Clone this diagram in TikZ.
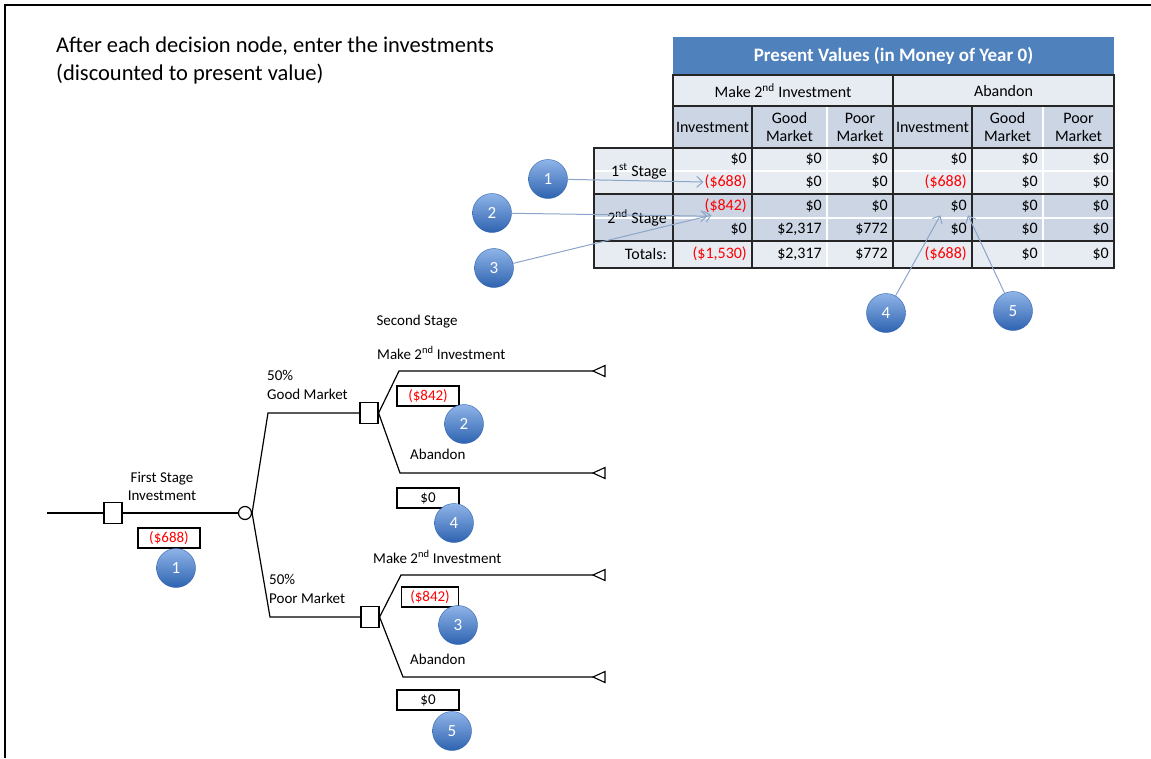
\documentclass[tikz,border=0pt]{standalone}
\usepackage{fontspec}
\setmainfont{Carlito}
\usepackage{tikz}
\usetikzlibrary{arrows.meta}
\usetikzlibrary{positioning}
\definecolor{titleblue}{HTML}{4F81BD}
\definecolor{celllight}{HTML}{E7ECF3}
\definecolor{celldark}{HTML}{CCD5E4}
\definecolor{negred}{HTML}{FF0000}
\definecolor{pointer}{HTML}{8AA5C8}
\definecolor{balltop}{HTML}{8FB4E8}
\definecolor{ballbot}{HTML}{2E63B0}
\newcommand{\negv}[1]{\textcolor{negred}{#1}}

\begin{document}
\begin{tikzpicture}[x=1pt,y=-1pt,node distance=2pt,
                    every node/.style=  {inner sep=1pt},
                    note/.style=        {font=\fontsize{22.5}{28}\selectfont,align=left,anchor=north west},
                    titletext/.style=   {text=white,font=\fontsize{19}{21}\bfseries\selectfont},
                    cell/.style=        {font=\fontsize{16}{18}\selectfont,align=center},
                    val/.style=         {cell,anchor=east},
                    grid/.style=        {line width=1.3pt,draw=black!85},
                    treetext/.style=    {font=\fontsize{15}{18}\selectfont},
                    branch/.style=      {line width=1.2pt,draw=black},
                    dec/.style=         {draw,line width=1.2pt,fill=white,minimum width=18pt,minimum height=21pt,inner sep=0},
                    chance/.style=      {draw,circle,line width=1.2pt,fill=white,minimum size=13pt,inner sep=0},
                    valbox/.style=      {draw,line width=1.2pt,treetext,minimum width=62pt,minimum height=20pt,inner sep=0},
                    badge/.style=       {circle,minimum size=39pt,top color=balltop,bottom color=ballbot,draw=ballbot,line width=0.4pt,text=white,font=\fontsize{17}{17}\selectfont},
                    pointer/.style=     {draw=pointer,line width=1pt,-{Straight Barb[length=6pt,width=11pt]}}]
      \useasboundingbox (0,0) rectangle (1151,758);
      \draw[line width=1.5pt] (5,758) -- (5,5) -- (1151,5);
      \node[note] (intro) at (55,36) {After each decision node, enter the investments\\(discounted to present value)};

      % table
      \fill[titleblue] (673,37) rectangle (1114,75);
      \node[titletext] (title) at (893.5,56) {Present Values (in Money of Year 0)};
      \fill[celllight] (673,75) rectangle (1114,106);
      \fill[celldark] (673,106) rectangle (1114,148);
      \fill[celllight] (594,148) rectangle (1114,194);
      \fill[celldark] (594,194) rectangle (1114,241);
      \fill[celllight] (594,241) rectangle (1114,268);
      \draw[white,line width=1.2pt] (594,171) -- (1114,171) (594,218) -- (1114,218)
                                    (827,106) -- (827,268) (1043,106) -- (1043,268);
      \draw[grid] (673,148) -- (673,75) -- (1114,75) -- (1114,268) -- (594,268) -- (594,148) -- (1114,148);
      \draw[grid] (673,106) -- (1114,106) (594,194) -- (1114,194) (594,241) -- (1114,241)
                  (673,148) -- (673,268) (752,106) -- (752,268) (893,75) -- (893,268) (972,106) -- (972,268);

      \node[cell] (hmake) at (783,91) {Make 2\textsuperscript{nd} Investment};
      \node[cell] (habandon) at (1003.5,91) {Abandon};
      \foreach \cx/\lab [count=\i] in {712.5/Investment, 789.5/{Good\\Market}, 860/{Poor\\Market},
                                       932.5/Investment, 1007.5/{Good\\Market}, 1078.5/{Poor\\Market}}
        \node[cell] (h\i) at (\cx,127) {\lab};

      \foreach \cx [count=\i] in {748,823,889,968,1039,1110}
        \coordinate (x\i) at (\cx,0);
      \foreach \ry [count=\j] in {159,182,206,229,254}
        \coordinate (y\j) at (0,\ry);

      \foreach \v [count=\i] in {\$0,\$0,\$0,\$0,\$0,\$0}
        \node[val] (r1c\i) at (x\i |- y1) {\v};
      \foreach \v [count=\i] in {{\negv{(\$688)}},\$0,\$0,{\negv{(\$688)}},\$0,\$0}
        \node[val] (r2c\i) at (x\i |- y2) {\v};
      \foreach \v [count=\i] in {{\negv{(\$842)}},\$0,\$0,\$0,\$0,\$0}
        \node[val] (r3c\i) at (x\i |- y3) {\v};
      \foreach \v [count=\i] in {\$0,{\$2,317},\$772,\$0,\$0,\$0}
        \node[val] (r4c\i) at (x\i |- y4) {\v};
      \foreach \v [count=\i] in {{\negv{(\$1,530)}},{\$2,317},\$772,{\negv{(\$688)}},\$0,\$0}
        \node[val] (r5c\i) at (x\i |- y5) {\v};

      \node[val] (stage1) at (668,171) {1\textsuperscript{st} Stage};
      \node[val] (stage2) at (668,218) {2\textsuperscript{nd} Stage};
      \node[val] (totals) at (668,254) {Totals:};

      % numbered pointers into the table
      \node[badge] (b1) at (548,179) {1};
      \node[badge] (b2) at (492,213) {2};
      \node[badge] (b3) at (494,268) {3};
      \node[badge] (b4) at (886,313) {4};
      \node[badge] (b5) at (1013,311) {5};
      \draw[pointer] (b1) -- (r2c1.west);
      \draw[pointer] (b2) -- ([xshift=4pt,yshift=-2pt]r3c1.south west);
      \draw[pointer] (b3) -- ([xshift=8pt,yshift=-1pt]r3c1.south west);
      \draw[pointer] (b4) -- ([xshift=-9pt,yshift=-2pt]r3c4.south west);
      \draw[pointer] (b5) -- ([yshift=-2pt]r3c4.south east);

      % decision tree
      \coordinate (root) at (47,513);
      \node[dec] (d1) at (113,513) {};
      \node[chance] (c1) at (245,513) {};
      \node[dec] (d2) at (369,413) {};
      \node[dec] (d3) at (370,617) {};
      \coordinate (gm) at (268,413);
      \coordinate (pm) at (270,617);
      \coordinate (m2) at (399,371);
      \coordinate (a2) at (400,473);
      \coordinate (m3) at (401,575);
      \coordinate (a3) at (403,677);
      \coordinate (e1) at (593,371);
      \coordinate (e2) at (593,473);
      \coordinate (e3) at (593,575);
      \coordinate (e4) at (593,677);
      \draw[branch] (root) -- (d1) -- (c1);
      \draw[branch] (c1.east) -- (gm) -- (d2.west);
      \draw[branch] (c1.east) -- (pm) -- (d3.west);
      \draw[branch] (d2.east) -- (m2) -- (e1);
      \draw[branch] (d2.east) -- (a2) -- (e2);
      \draw[branch] (d3.east) -- (m3) -- (e3);
      \draw[branch] (d3.east) -- (a3) -- (e4);
      \foreach \e in {e1,e2,e3,e4}
        \draw[branch,line width=1.1pt,fill=white] (\e) -- ++(12,-5.5) -- ++(0,11) -- cycle;

      \node[treetext,align=center] (first) at (162,486) {First Stage\\Investment};
      \node[treetext,anchor=west] (good) at (266,394) {Good Market};
      \node[treetext,above=6pt of good.north west,anchor=south west] (pgood) {50\%};
      \node[treetext,anchor=west] (poor) at (268,598) {Poor Market};
      \node[treetext,above=6pt of poor.north west,anchor=south west] (ppoor) {50\%};
      \node[treetext] (second) at (417,322) {Second Stage};
      \node[treetext,anchor=west] (make2) at (376,353) {Make 2\textsuperscript{nd} Investment};
      \node[treetext,anchor=west] (aban2) at (409,454) {Abandon};
      \node[treetext,anchor=west] (make3) at (372,557) {Make 2\textsuperscript{nd} Investment};
      \node[treetext,anchor=west] (aban3) at (409,659) {Abandon};

      \node[valbox] (v1) at (169,538) {\negv{(\$688)}};
      \node[valbox] (v2) at (428,396) {\negv{(\$842)}};
      \node[valbox] (v4) at (428,498) {\$0};
      \node[valbox,minimum width=57pt] (v3) at (430,597) {\negv{(\$842)}};
      \node[valbox] (v5) at (428,700) {\$0};

      \node[badge] (tb1) at (176,568) {1};
      \node[badge] (tb2) at (464,424) {2};
      \node[badge] (tb4) at (454,523) {4};
      \node[badge] (tb3) at (458,625) {3};
      \node[badge] (tb5) at (452,731) {5};
\end{tikzpicture}
\end{document}
